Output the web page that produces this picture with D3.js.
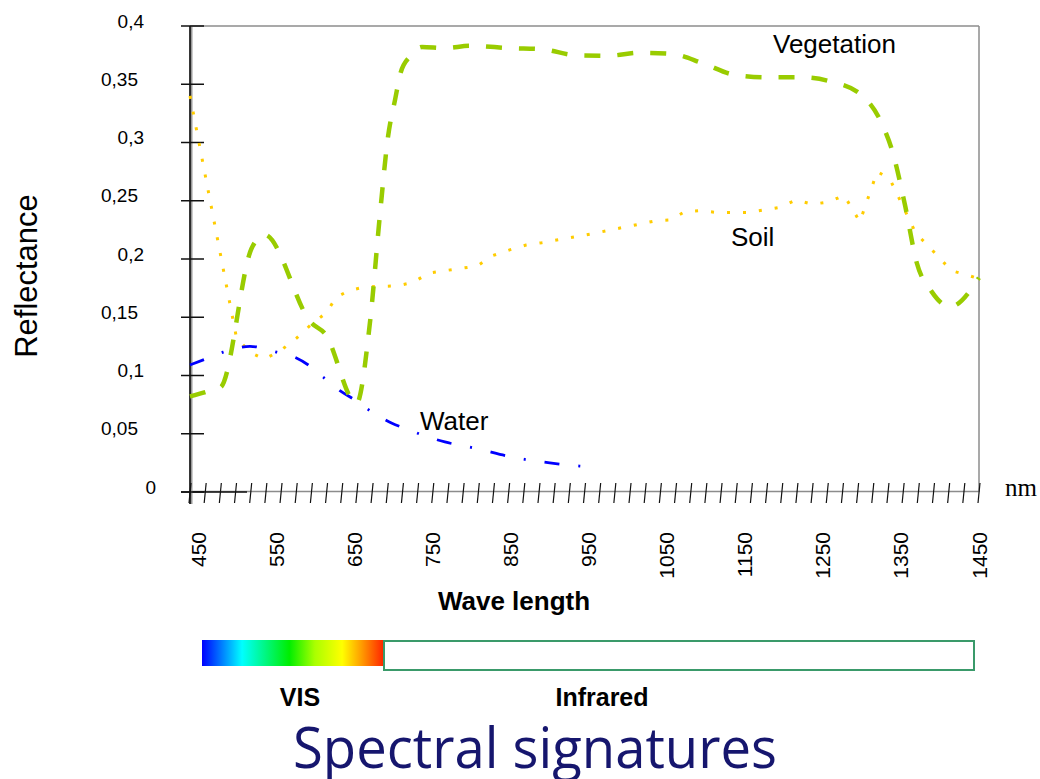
<!DOCTYPE html>
<html>
<head>
<meta charset="utf-8">
<script src="https://cdn.jsdelivr.net/npm/d3@7/dist/d3.min.js"></script>
<style>
  body { margin: 0; background: #fff; }
  text { font-family: Arial, "Liberation Sans", sans-serif; }
</style>
</head>
<body>
<svg id="canvas" width="1040" height="779"></svg>
<script>
// reflectance curves (wavelength in nm, reflectance 0..1)
var vegNm = [450, 471, 489, 528, 544, 604, 621, 661, 678, 691, 701, 710, 717, 729, 744, 773, 805, 856, 897, 938, 980, 1020, 1061, 1100, 1141, 1183, 1223, 1264, 1304, 1327, 1340, 1356, 1371, 1390, 1413, 1450]
var vegVal = [0.082, 0.086, 0.090, 0.209, 0.221, 0.145, 0.136, 0.076, 0.145, 0.240, 0.305, 0.337, 0.360, 0.374, 0.382, 0.381, 0.383, 0.381, 0.380, 0.375, 0.3745, 0.377, 0.376, 0.368, 0.358, 0.356, 0.356, 0.352, 0.339, 0.316, 0.293, 0.247, 0.197, 0.172, 0.159, 0.184]

var soilNm = [450, 509, 526, 544, 564, 585, 604, 623, 635, 652, 672, 713, 733, 753, 814, 834, 856, 876, 896, 958, 1039, 1059, 1077, 1096, 1117, 1158, 1198, 1218, 1239, 1260, 1279, 1299, 1321, 1337, 1370, 1386, 1415, 1436, 1450]
var soilVal = [0.340, 0.132, 0.120, 0.114, 0.121, 0.132, 0.144, 0.154, 0.167, 0.173, 0.176, 0.177, 0.180, 0.188, 0.194, 0.203, 0.208, 0.212, 0.214, 0.2215, 0.2326, 0.2335, 0.2406, 0.2415, 0.240, 0.240, 0.2444, 0.2506, 0.247, 0.249, 0.2547, 0.232, 0.2751, 0.2687, 0.222, 0.211, 0.190, 0.186, 0.183]

var waterNm = [450, 469, 492, 526, 560, 583, 600, 619, 640, 659, 682, 706, 725, 748, 773, 815, 858, 906, 948]
var waterVal = [0.109, 0.114, 0.120, 0.125, 0.120, 0.1156, 0.109, 0.0985, 0.087, 0.079, 0.068, 0.059, 0.054, 0.048, 0.043, 0.037, 0.030, 0.025, 0.022]

var yTicks = [0, 0.05, 0.1, 0.15, 0.2, 0.25, 0.3, 0.35, 0.4]
var xLabels = [450, 550, 650, 750, 850, 950, 1050, 1150, 1250, 1350, 1450]
var minorCount = 52

var svg = d3.select('#canvas')
var x = d3.scaleLinear().domain([450, 1450]).range([190, 979])
// the printed labels sit a little off the tick grid
var xLab = d3.scaleLinear().domain([450, 1450]).range([198, 979])
var y = d3.scaleLinear().domain([0, 0.4]).range([492, 26])
var comma = d3.formatLocale({ decimal: ',', thousands: '.', grouping: [3], currency: ['', ''] }).format('.2~f')

function zip(nm, val) {
  return nm.map(function(d, i) { return { nm: d, v: val[i] } })
}

// frame
svg.append('line').attr('x1', x(450)).attr('x2', x(1450)).attr('y1', y(0.4)).attr('y2', y(0.4))
  .style('stroke', '#8c8c8c').style('stroke-width', 1.5)
svg.append('line').attr('x1', x(1450)).attr('x2', x(1450)).attr('y1', y(0.4)).attr('y2', y(0))
  .style('stroke', '#8c8c8c').style('stroke-width', 1.5)
svg.append('line').attr('x1', x(450)).attr('x2', x(1450)).attr('y1', y(0) - 0.5).attr('y2', y(0) - 0.5)
  .style('stroke', '#8c8c8c').style('stroke-width', 1.5)
svg.append('line').attr('x1', x(450) - 9).attr('x2', x(450) + 57).attr('y1', y(0)).attr('y2', y(0))
  .style('stroke', '#111').style('stroke-width', 1.5)
svg.append('line').attr('x1', x(450) + 1).attr('x2', x(450) + 1).attr('y1', y(0.4)).attr('y2', y(0) + 12)
  .style('stroke', '#9a9a9a').style('stroke-width', 3)
svg.append('line').attr('x1', x(450)).attr('x2', x(450)).attr('y1', y(0.4)).attr('y2', y(0) + 12)
  .style('stroke', '#111').style('stroke-width', 1.6)

// y ticks and labels (the scan's labels drift left as they get longer)
svg.selectAll('.ytick').data(yTicks).enter().append('line')
  .attr('class', 'ytick')
  .attr('x1', x(450) - 9).attr('x2', x(450) + 14)
  .attr('y1', function(d) { return y(d) }).attr('y2', function(d) { return y(d) })
  .style('stroke', '#111').style('stroke-width', 1.5)
svg.selectAll('.ylab').data(yTicks).enter().append('text')
  .attr('class', 'ylab')
  .attr('x', function(d) { return 162 - 6 * comma(d).length })
  .attr('y', function(d) { return y(d) + 1.5 })
  .attr('text-anchor', 'end')
  .style('font-size', '19px')
  .text(function(d) { return comma(d) })

// x minor ticks, slightly slanted as in the scan
var minor = d3.range(minorCount + 1).map(function(i) { return 450 + i * 1000 / minorCount })
svg.selectAll('.xtick').data(minor).enter().append('line')
  .attr('class', 'xtick')
  .attr('x1', function(d) { return x(d) + 1 }).attr('x2', function(d) { return x(d) - 1 })
  .attr('y1', y(0) - 9).attr('y2', y(0) + 11)
  .style('stroke', '#111').style('stroke-width', 1.2)

svg.selectAll('.xlab').data(xLabels).enter().append('text')
  .attr('class', 'xlab')
  .attr('transform', function(d) { return 'translate(' + xLab(d) + ',532) rotate(-90)' })
  .attr('dy', '0.36em')
  .attr('text-anchor', 'end')
  .style('font-size', '21px')
  .text(function(d) { return d })

// curves
var line = d3.line()
  .x(function(d) { return x(d.nm) })
  .y(function(d) { return y(d.v) })

svg.append('path').datum(zip(soilNm, soilVal))
  .attr('d', line)
  .style('fill', 'none').style('stroke', '#ffcc00').style('stroke-width', 3)
  .style('stroke-dasharray', '3,13')

svg.append('path').datum(zip(waterNm, waterVal))
  .attr('d', line.curve(d3.curveMonotoneX))
  .style('fill', 'none').style('stroke', '#0000ff').style('stroke-width', 2.8)
  .style('stroke-dasharray', '15,19,2,19')

svg.append('path').datum(zip(vegNm, vegVal))
  .attr('d', line.curve(d3.curveMonotoneX))
  .style('fill', 'none').style('stroke', '#99cc00').style('stroke-width', 4.5)
  .style('stroke-dasharray', '16,17')

// series labels
svg.append('text').attr('x', 773).attr('y', 53).style('font-size', '26px').text('Vegetation')
svg.append('text').attr('x', 731).attr('y', 246).style('font-size', '26px').text('Soil')
svg.append('text').attr('x', 420).attr('y', 430).style('font-size', '26px').text('Water')

// axis titles
svg.append('text').attr('transform', 'translate(37,276) rotate(-90)')
  .attr('text-anchor', 'middle').style('font-size', '31px').text('Reflectance')
svg.append('text').attr('x', 514).attr('y', 610)
  .attr('text-anchor', 'middle').style('font-size', '26px').style('font-weight', 'bold').text('Wave length')
svg.append('text').attr('x', 1005).attr('y', 496)
  .style('font-family', '"Liberation Serif", "DejaVu Serif", serif').style('font-size', '25px').text('nm')

// spectrum bar
var grad = svg.append('defs').append('linearGradient').attr('id', 'spectrum')
var stops = [[0, '#0000ff'], [0.22, '#00ffff'], [0.48, '#00ee00'], [0.62, '#aaff00'], [0.77, '#ffff00'], [0.88, '#ff9900'], [1, '#ff2200']]
grad.selectAll('stop').data(stops).enter().append('stop')
  .attr('offset', function(d) { return d[0] })
  .attr('stop-color', function(d) { return d[1] })
svg.append('rect').attr('x', 202).attr('y', 640).attr('width', 182).attr('height', 26).style('fill', 'url(#spectrum)')
svg.append('rect').attr('x', 384).attr('y', 641).attr('width', 590).attr('height', 29)
  .style('fill', 'none').style('stroke', '#3a9a6a').style('stroke-width', 2)
svg.append('text').attr('x', 300).attr('y', 706).attr('text-anchor', 'middle')
  .style('font-size', '25px').style('font-weight', 'bold').text('VIS')
svg.append('text').attr('x', 602).attr('y', 706).attr('text-anchor', 'middle')
  .style('font-size', '25px').style('font-weight', 'bold').text('Infrared')

// title
svg.append('text').attr('x', 535).attr('y', 768).attr('text-anchor', 'middle')
  .attr('textLength', 484).attr('lengthAdjust', 'spacingAndGlyphs')
  .style('font-family', '"Open Sans", "Noto Sans", sans-serif').style('font-size', '57px')
  .style('fill', '#16166e').text('Spectral signatures')
</script>
</body>
</html>
